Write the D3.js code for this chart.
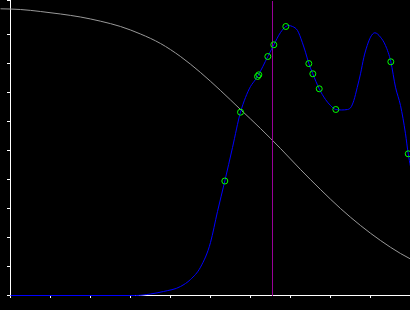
<!DOCTYPE html>
<html>
<head>
<meta charset="utf-8">
<script src="https://cdn.jsdelivr.net/npm/d3@7"></script>
<style>
  body { margin: 0; background: #000; }
  svg { display: block; background: #000; }
</style>
</head>
<body>
<svg id="chart" width="410" height="310"></svg>
<script>
// axis ticks (no labels shown)
var xTicks = [1, 2, 3, 4, 5, 6, 7, 8, 9];
var yTicks = [1, 2, 3, 4, 5, 6, 7, 8, 9];

// gray decreasing curve
var grayX = [-0.25, 0.25, 0.75, 1.25, 1.75, 2.25, 2.75, 3.25, 3.75, 4.25, 4.75, 5.25, 5.75, 6.25, 6.75, 7.25, 7.75, 8.25, 8.75, 9.25, 9.75, 10];
var grayY = [9.886, 9.862, 9.793, 9.707, 9.603, 9.459, 9.276, 9.017, 8.690, 8.241, 7.690, 7.069, 6.414, 5.759, 5.069, 4.345, 3.655, 3.000, 2.414, 1.897, 1.448, 1.259];

// blue curve
var blueX = [0, 3.125, 3.5, 3.825, 4.25, 4.5, 4.75, 5.0, 5.175, 5.358, 5.55, 5.75, 5.875, 6.0, 6.125, 6.188, 6.433, 6.583, 6.75, 6.883, 6.95, 7.05, 7.175, 7.293, 7.375, 7.458, 7.558, 7.718, 7.875, 8.0, 8.133, 8.275, 8.425, 8.5, 8.583, 8.668, 8.75, 8.833, 8.918, 9.0, 9.108, 9.25, 9.375, 9.508, 9.625, 9.75, 9.875, 9.943, 10];
var blueY = [0, 0, 0.052, 0.138, 0.31, 0.552, 0.976, 1.828, 2.897, 3.948, 5.103, 6.321, 6.828, 7.207, 7.448, 7.586, 8.241, 8.645, 9.069, 9.276, 9.31, 9.276, 9.138, 8.734, 8.390, 7.999, 7.645, 7.128, 6.759, 6.552, 6.414, 6.397, 6.414, 6.472, 6.724, 7.172, 7.645, 8.207, 8.621, 8.907, 9.059, 8.907, 8.621, 8.059, 7.183, 6.552, 5.576, 4.886, 4.448];

// green sample markers
var markX = [5.358, 5.75, 6.175, 6.208, 6.433, 6.583, 6.883, 7.458, 7.558, 7.718, 8.133, 9.508, 9.943];
var markY = [3.948, 6.321, 7.552, 7.610, 8.241, 8.645, 9.276, 7.997, 7.645, 7.128, 6.414, 8.059, 4.886];

// vertical marker line position
var vLineX = 6.56;

var svg = d3.select('#chart');

var x = d3.scaleLinear().domain([0, 10]).range([10, 410]);
var y = d3.scaleLinear().domain([0, 295 / 29]).range([295, 0]);

// axes
svg.append('g')
  .attr('transform', 'translate(0,295)')
  .call(d3.axisBottom(x).tickValues(xTicks).tickSizeOuter(0).tickSize(3).tickFormat(''));
svg.append('g')
  .attr('transform', 'translate(10,0)')
  .call(d3.axisLeft(y).tickValues(yTicks).tickSizeOuter(0).tickSize(3).tickFormat(''));
svg.selectAll('.domain, .tick line').attr('stroke', '#fff').attr('shape-rendering', 'crispEdges');

var line = d3.line()
  .x(function(d) { return x(d[0]); })
  .y(function(d) { return y(d[1]); })
  .curve(d3.curveMonotoneX);

var plot = svg.append('g').attr('transform', 'translate(0.5,0.5)');

plot.append('path')
  .datum(d3.zip(grayX, grayY))
  .attr('d', line)
  .attr('fill', 'none')
  .attr('stroke', '#999')
  .attr('stroke-width', 1);

plot.append('line')
  .attr('x1', x(vLineX)).attr('x2', x(vLineX))
  .attr('y1', 0).attr('y2', y(0))
  .attr('stroke', '#990099')
  .attr('shape-rendering', 'crispEdges');

plot.append('path')
  .datum(d3.zip(blueX, blueY))
  .attr('d', line)
  .attr('fill', 'none')
  .attr('stroke', '#0000ff')
  .attr('stroke-width', 1);

plot.selectAll('circle')
  .data(d3.zip(markX, markY))
  .enter()
  .append('circle')
  .attr('cx', function(d) { return x(d[0]); })
  .attr('cy', function(d) { return y(d[1]); })
  .attr('r', 3)
  .attr('fill', 'none')
  .attr('stroke', '#00ff00')
  .attr('stroke-width', 1);
</script>
</body>
</html>
